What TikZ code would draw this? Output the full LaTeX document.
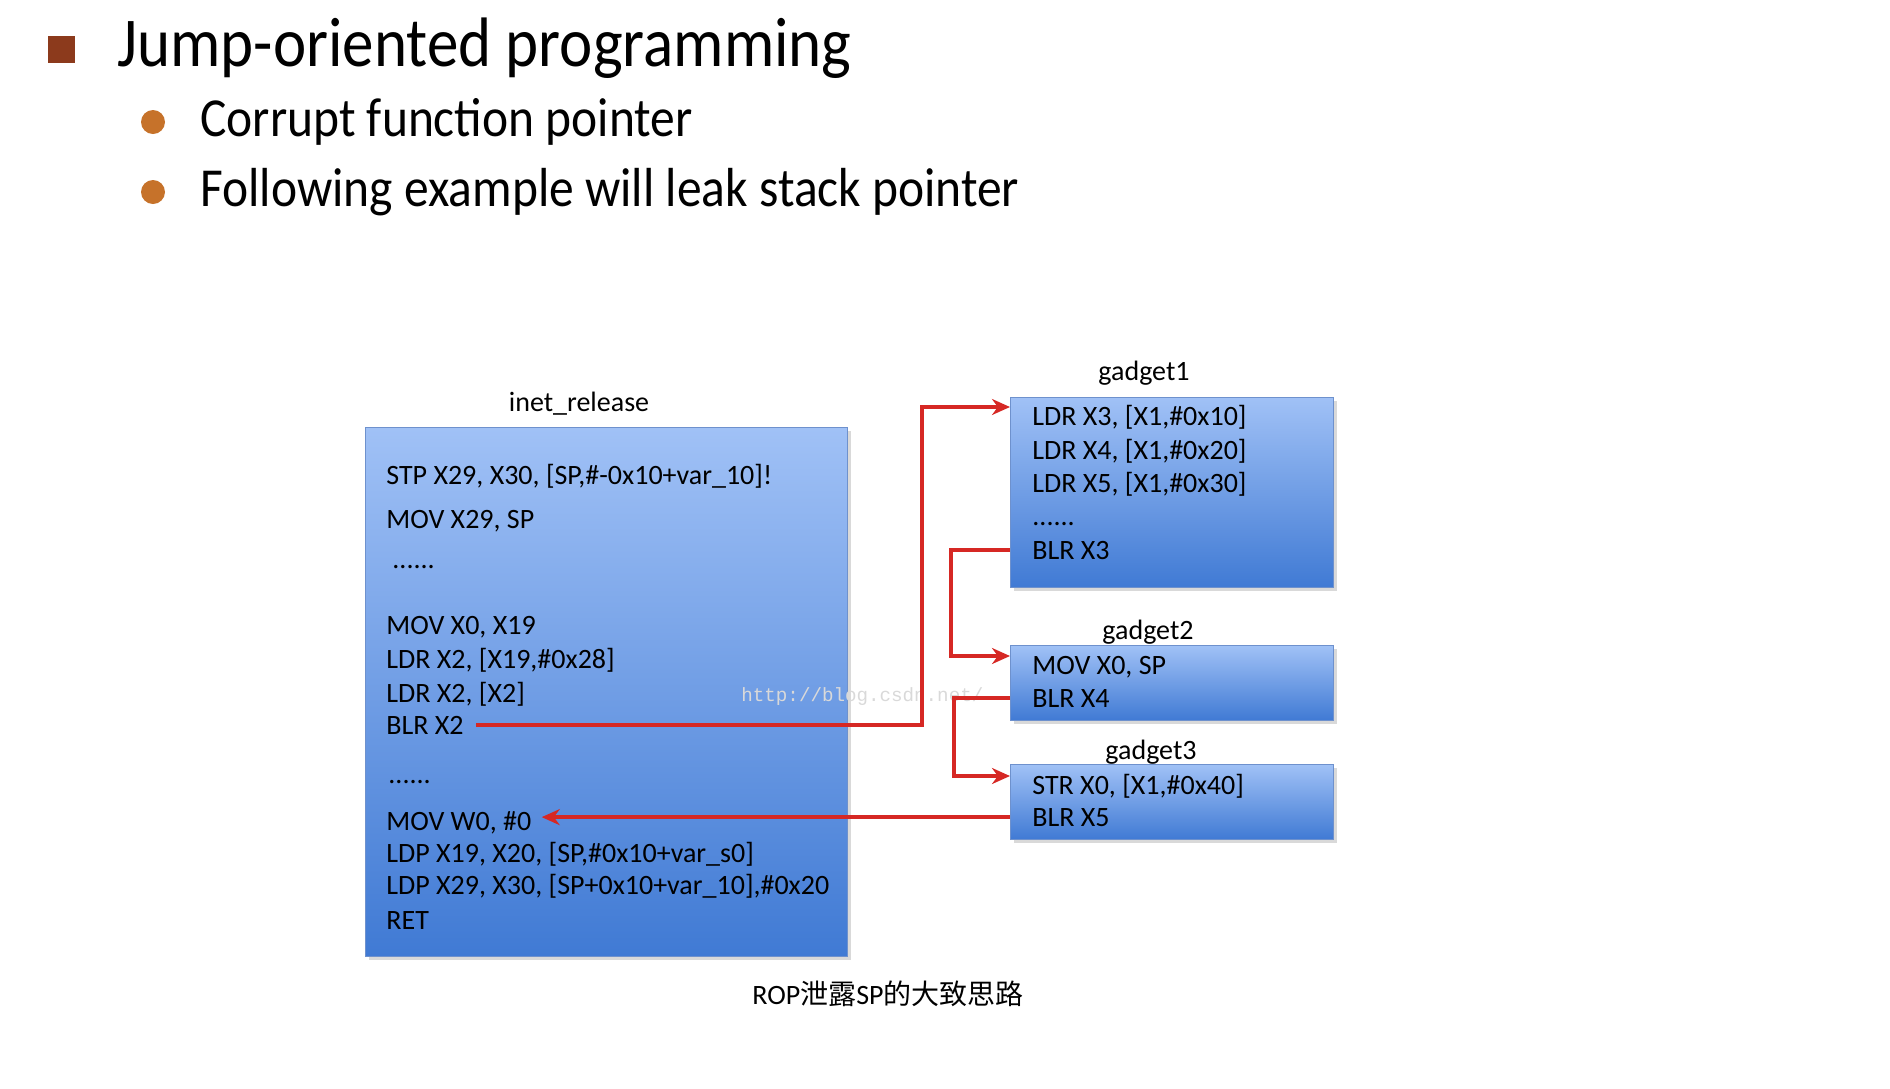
\documentclass[tikz,border=0pt]{standalone}
\usepackage{fontspec}
\setmainfont{Carlito}
\newfontfamily\headfont[FakeStretch=0.9]{Carlito}
\newfontfamily\cjk{Noto Sans CJK SC}
\newfontfamily\webfont{Liberation Mono}
\usepackage{tikz}
\usetikzlibrary{positioning,calc,shadows}
\usetikzlibrary{arrows.meta}
\definecolor{boxtop}{RGB}{160,193,246}
\definecolor{boxbot}{RGB}{64,122,212}
\definecolor{boxline}{RGB}{110,145,205}
\definecolor{jumpred}{RGB}{214,40,36}
\definecolor{squarecol}{RGB}{140,58,28}
\definecolor{bulletcol}{RGB}{198,114,42}
\tikzstyle{jump} = [draw=jumpred, line width=1.8pt, -{Stealth[length=9pt,width=8pt]}]

\begin{document}
\begin{tikzpicture}[x=0.5pt,y=-0.5pt,
	codebox/.style={draw=boxline, line width=0.5pt, top color=boxtop, bottom color=boxbot, anchor=north west, inner sep=0pt, drop shadow={shadow xshift=1.5pt, shadow yshift=-1.5pt, opacity=0.3}},
	asm/.style={anchor=base west, inner sep=0pt, font=\fontsize{14}{16}\selectfont},
	boxname/.style={anchor=base, inner sep=0pt, font=\fontsize{14}{16}\selectfont}]
	\useasboundingbox (0,0) rectangle (1890,1088);
	
	% HEADER
	
	\fill[squarecol] (48,36) rectangle (75,63);
	\node[anchor=base west, inner sep=0pt, font=\headfont\fontsize{35}{40}\selectfont] (title) at (117,66) {Jump-oriented programming};
	\fill[bulletcol] (153,122) circle (6pt);
	\fill[bulletcol] (153,192) circle (6pt);
	\node[anchor=base west, inner sep=0pt, font=\headfont\fontsize{27.5}{32}\selectfont] (pointone) at (200,136) {Corrupt function pointer};
	\node[anchor=base west, inner sep=0pt, font=\headfont\fontsize{27.5}{32}\selectfont] (pointtwo) at (200,206) {Following example will leak stack pointer};
	
	% BOXES
	
	\node[codebox, minimum width=241pt, minimum height=264.5pt] (inet) at (365,427) {};
	\node[boxname] (inettitle) at (579,411) {inet\_release};
	\node[codebox, minimum width=161.5pt, minimum height=95pt] (gone) at (1010,397) {};
	\node[boxname] (gonetitle) at (1144,380) {gadget1};
	\node[codebox, minimum width=161.5pt, minimum height=37.5pt] (gtwo) at (1010,645) {};
	\node[boxname] (gtwotitle) at (1148,639) {gadget2};
	\node[codebox, minimum width=161.5pt, minimum height=37.5pt] (gthree) at (1010,764) {};
	\node[boxname] (gthreetitle) at (1151,759) {gadget3};
	
	% CODE
	
	\node[asm] (stp) at (386,484) {STP X29, X30, [SP,\#-0x10+var\_10]!};
	\node[asm] (movxtwentynine) at (386,528) {MOV X29, SP};
	\node[asm] (dotsone) at (392,568) {......};
	\node[asm] (movxzero) at (386,634) {MOV X0, X19};
	\node[asm] (ldrone) at (386,668) {LDR X2, [X19,\#0x28]};
	\node[asm] (ldrtwo) at (386,702) {LDR X2, [X2]};
	\node[asm] (blrxtwo) at (386,734) {BLR X2};
	\node[asm] (dotstwo) at (388,783) {......};
	\node[asm] (movwzero) at (386,830) {MOV W0, \#0};
	\node[asm] (ldpone) at (386,862) {LDP X19, X20, [SP,\#0x10+var\_s0]};
	\node[asm] (ldptwo) at (386,894) {LDP X29, X30, [SP+0x10+var\_10],\#0x20};
	\node[asm] (ret) at (386,929) {RET};
	
	\node[asm] (ldrxthree) at (1032,425) {LDR X3, [X1,\#0x10]};
	\node[asm] (ldrxfour) at (1032,459) {LDR X4, [X1,\#0x20]};
	\node[asm] (ldrxfive) at (1032,492) {LDR X5, [X1,\#0x30]};
	\node[asm] (dotsthree) at (1032,525) {......};
	\node[asm] (blrxthree) at (1032,559) {BLR X3};
	\node[asm] (movsp) at (1032,674) {MOV X0, SP};
	\node[asm] (blrxfour) at (1032,707) {BLR X4};
	\node[asm] (str) at (1032,794) {STR X0, [X1,\#0x40]};
	\node[asm] (blrxfive) at (1032,826) {BLR X5};
	
	\node[anchor=base west, inner sep=0pt, text=gray!30, font=\webfont\fontsize{9.6}{11}\selectfont] (watermark) at (741,701) {http://blog.csdn.net/};
	
	% JUMPS
	
	\coordinate (busone) at (922,0);
	\coordinate (bustwo) at (951,0);
	\coordinate (busthree) at (954,0);
	\coordinate (gonein) at ([yshift=-5pt]gone.north west);
	\coordinate (gtwoin) at ([yshift=-5.5pt]gtwo.north west);
	\coordinate (gthreein) at ([yshift=-6pt]gthree.north west);
	
	\draw[jump] ([xshift=6pt]blrxtwo.east) -| (busone |- gonein) -- (gonein);
	\draw[jump] (blrxthree.west -| gone.west) -| (bustwo |- gtwoin) -- (gtwoin);
	\draw[jump] (blrxfour.west -| gtwo.west) -| (busthree |- gthreein) -- (gthreein);
	\draw[jump] (blrxfive.west -| gthree.west) -- ([xshift=5pt]movwzero.east |- blrxfive.west);
	
	\node[anchor=base, inner sep=0pt, font=\fontsize{14}{16}\selectfont] (caption) at (888,1004) {ROP{\cjk 泄露}SP{\cjk 的大致思路}};
	
\end{tikzpicture}
\end{document}
